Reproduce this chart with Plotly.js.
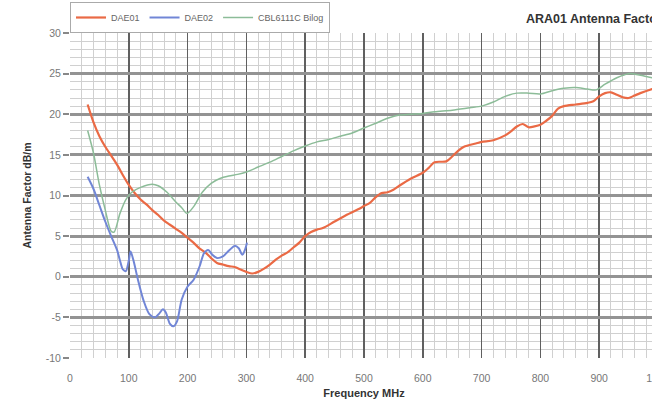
<!DOCTYPE html>
<html>
<head>
<meta charset="utf-8">
<script src="https://cdn.plot.ly/plotly-3.0.1.min.js"></script>
<style>
html,body{margin:0;padding:0;background:#fff;overflow:hidden;width:652px;height:401px;}
#chart{width:690px;height:401px;}
</style>
</head>
<body>
<div id="chart"></div>
<script>
// ---- data ----
const dae01Freq = [30,40,50,60,70,80,90,100,110,120,130,140,150,160,170,180,190,200,210,220,230,240,250,260,270,280,290,300,310,320,330,340,350,360,370,380,390,400,410,420,430,450,470,490,500,510,520,530,540,550,560,580,600,610,620,640,650,660,670,690,700,720,740,750,760,770,780,790,800,810,820,830,840,860,880,890,900,910,920,930,940,950,960,970,990,1000];
const dae01Val  = [21.2,19.0,17.3,16.0,14.9,13.8,12.5,11.3,10.3,9.5,8.9,8.2,7.6,6.9,6.4,5.9,5.4,4.8,4.2,3.5,3.0,2.3,1.7,1.5,1.3,1.2,0.9,0.6,0.4,0.6,1.0,1.5,2.1,2.6,3.0,3.6,4.2,5.0,5.5,5.8,6.0,6.8,7.6,8.3,8.7,9.1,9.8,10.3,10.4,10.7,11.2,12.1,12.8,13.4,14.1,14.2,14.8,15.5,16.0,16.4,16.6,16.8,17.4,17.9,18.5,18.8,18.4,18.5,18.7,19.2,19.8,20.7,21.0,21.2,21.4,21.6,22.2,22.6,22.7,22.4,22.1,22.0,22.3,22.6,23.1,23.3];

const dae02Freq = [30,40,50,60,70,80,85,90,95,100,103,108,115,125,135,145,152,158,163,170,176,182,190,200,210,220,228,235,242,250,260,270,280,287,293,298,301];
const dae02Val  = [12.3,10.8,8.8,6.8,5.0,3.3,2.0,0.9,0.7,2.0,3.1,2.0,-0.2,-2.9,-4.6,-5.0,-4.5,-4.0,-4.4,-5.8,-6.1,-5.5,-2.8,-1.2,-0.4,1.2,2.9,3.3,2.7,2.3,2.5,3.2,3.8,3.5,2.7,3.4,4.2];

const cblFreq = [30,40,50,60,70,75,85,95,105,120,140,150,165,180,190,199,210,225,240,255,270,285,300,320,340,360,380,400,420,440,460,480,500,520,540,560,580,600,620,650,680,700,720,740,760,780,800,820,840,860,880,895,910,930,950,970,990,1000];
const cblVal  = [18.0,15.2,11.3,8.2,5.6,5.5,7.8,9.5,10.4,11.0,11.4,11.2,10.4,9.2,8.5,7.8,8.6,10.4,11.5,12.1,12.4,12.6,12.9,13.5,14.1,14.8,15.5,16.1,16.6,16.9,17.3,17.7,18.3,18.9,19.5,19.9,20.0,20.1,20.3,20.5,20.8,21.0,21.5,22.2,22.6,22.6,22.5,22.9,23.2,23.3,23.1,23.0,23.7,24.5,25.0,24.8,24.5,24.6];

const xTickVals = [0,100,200,300,400,500,600,700,800,900,1000];
const yTickVals = [-10,-5,0,5,10,15,20,25,30];

const FONT = "Liberation Sans, Arial, sans-serif";

const traces = [
  {x: dae01Freq, y: dae01Val, name: "DAE01", mode: "lines",
   line: {color: "#ea6a45", width: 2.2, shape: "spline", smoothing: 0.8}},
  {x: dae02Freq, y: dae02Val, name: "DAE02", mode: "lines",
   line: {color: "#7186d6", width: 2.0, shape: "spline", smoothing: 0.8}},
  {x: cblFreq, y: cblVal, name: "CBL6111C Bilog", mode: "lines",
   line: {color: "#8cbc98", width: 1.5, shape: "spline", smoothing: 0.8}}
];

const layout = {
  width: 690, height: 401,
  margin: {l: 70, r: 32, t: 33, b: 43, autoexpand: false},
  paper_bgcolor: "#fff", plot_bgcolor: "#fff",
  font: {family: FONT, size: 9, color: "#555"},
  showlegend: true,
  legend: {orientation: "h", x: 0, xanchor: "left", y: 1.0, yanchor: "bottom",
           bgcolor: "#fff", bordercolor: "#aaa", borderwidth: 1,
           font: {family: FONT, size: 9, color: "#666"},
           itemwidth: 30, tracegroupgap: 0},
  title: {text: "<b>ARA01 Antenna Factor</b>", xref: "container", x: 526/690, xanchor: "left",
          yref: "container", y: 1 - 19/401, yanchor: "middle",
          font: {family: FONT, size: 12.5, color: "#333"}},
  xaxis: {range: [0, 1000], tickvals: xTickVals, ticktext: xTickVals.map(String),
          showgrid: true, gridcolor: "#606060", gridwidth: 1.6,
          minor: {dtick: 20, tick0: 0, showgrid: true, gridcolor: "#d0d0d0", gridwidth: 1},
          zeroline: false, showline: false,
          ticks: "", ticklabelstandoff: 12,
          tickfont: {family: FONT, size: 10.5, color: "#777"},
          title: {text: "<b>Frequency MHz</b>", font: {family: FONT, size: 11, color: "#333"}, standoff: 6},
          fixedrange: true},
  yaxis: {range: [-10, 30], tickvals: yTickVals, ticktext: yTickVals.map(String),
          showgrid: true, gridcolor: "#939393", gridwidth: 3,
          minor: {dtick: 1, tick0: 0, showgrid: true, gridcolor: "#d0d0d0", gridwidth: 1},
          zeroline: false, showline: false,
          ticks: "outside", ticklen: 6, tickcolor: "#888", tickwidth: 2,
          tickfont: {family: FONT, size: 10.5, color: "#777"},
          title: {text: "<b>Antenna Factor dB/m</b>", font: {family: FONT, size: 10.5, color: "#333"}, standoff: 12},
          fixedrange: true}
};

Plotly.newPlot("chart", traces, layout, {staticPlot: true, displayModeBar: false});
</script>
</body>
</html>
